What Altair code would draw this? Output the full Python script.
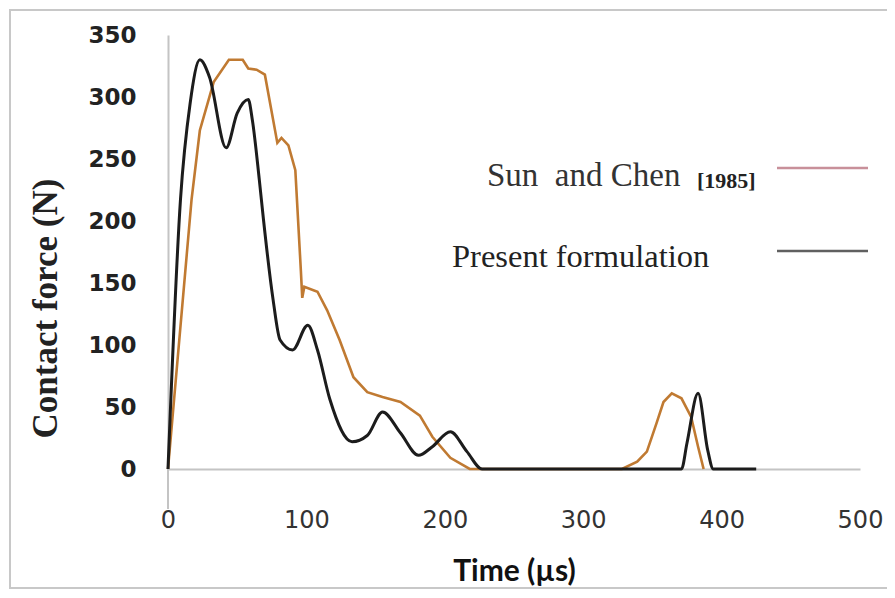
import altair as alt
import pandas as pd

# Present formulation (black)
t_present = [0, 9, 16, 23, 30, 42, 50, 58, 61, 66, 69, 76, 81, 90, 101, 108, 117, 133, 144, 155,
             168, 181, 191, 204, 216, 227, 371, 375, 383, 390, 394, 425]
f_present = [0, 217, 295, 330, 316, 259, 287, 298, 281, 233, 201, 136, 104, 96, 116, 96, 56, 22, 27, 46,
             29, 11, 18, 30, 14, 0, 0, 21, 61, 15, 0, 0]

# Sun and Chen [1985] (orange)
t_sun = [0, 17, 23, 33, 44, 54, 58, 64, 70, 79, 82, 87, 92, 96, 97, 98.5, 108, 115, 124, 134, 144, 155,
         168, 182, 191, 204, 218, 328, 339, 346, 353, 358, 364, 371, 378, 383, 387]
f_sun = [0, 217, 273, 312, 330, 330, 323, 322, 318, 263, 267, 261, 241, 160, 138, 147, 143, 128, 104, 74, 62, 58,
         54, 43, 26, 9, 0, 0, 6, 14, 37, 54, 61, 57, 42, 18, 0]

legend_labels = ["Sun\u00a0 and Chen", "Present formulation"]
legend_ref = "[1985]"
x_ticks = [0, 100, 200, 300, 400, 500]
y_ticks = [0, 50, 100, 150, 200, 250, 300, 350]

df_sun = pd.DataFrame({"t": t_sun, "f": f_sun, "i": range(len(t_sun))})
df_pre = pd.DataFrame({"t": t_present, "f": f_present, "i": range(len(t_present))})

W, H = 692, 434

xenc = alt.X("t:Q", scale=alt.Scale(domain=[0, 500], nice=False),
             axis=alt.Axis(values=x_ticks, title="Time (µs)", grid=False, ticks=False,
                           domainColor="#c4c4c4", domainWidth=2,
                           labelFont="DejaVu Sans", labelFontSize=24, labelColor="#333333",
                           labelPadding=39, labelFlush=False,
                           titleFont="Lato", titleFontSize=30, titleFontWeight="bold",
                           titleColor="#111111", titleX=346, titleY=102,
                           titleBaseline="middle"))
yenc = alt.Y("f:Q", scale=alt.Scale(domain=[0, 350], nice=False),
             axis=alt.Axis(values=y_ticks, title="Contact force (N)", grid=False, ticks=False,
                           domainColor="#c4c4c4", domainWidth=2,
                           labelFont="DejaVu Sans", labelFontSize=23, labelFontWeight="bold",
                           labelColor="#222222", labelPadding=32,
                           titleFont="Liberation Serif", titleFontSize=35, titleFontWeight="bold",
                           titleColor="#222222", titleAngle=270, titleX=-123, titleY=273,
                           titleBaseline="middle", titleAlign="center"))

sun_line = alt.Chart(df_sun).mark_line(color="#C07A32", strokeWidth=2.6).encode(
    x=xenc, y=yenc, order="i:Q")
pre_line = alt.Chart(df_pre).mark_line(color="#1c1c1c", strokeWidth=3, interpolate="monotone").encode(
    x="t:Q", y="f:Q", order="i:Q")

one = pd.DataFrame({"a": [0]})
frame = alt.Chart(one).mark_rect(fill="transparent", stroke="#c8c8c8", strokeWidth=2).encode(
    x=alt.value(-158), x2=alt.value(740), y=alt.value(-25), y2=alt.value(553))
stub = alt.Chart(one).mark_rule(color="#c4c4c4", strokeWidth=2).encode(
    x=alt.value(0), y=alt.value(H), y2=alt.value(H + 40))

leg1 = alt.Chart(pd.DataFrame({"lab": [legend_labels[0]]})).mark_text(
    font="Liberation Serif", fontSize=33, align="left", baseline="alphabetic", color="#333333").encode(
    x=alt.value(319), y=alt.value(151), text="lab:N")
leg1b = alt.Chart(pd.DataFrame({"lab": [legend_ref]})).mark_text(
    font="Liberation Serif", fontSize=22, fontWeight="bold", align="left", baseline="alphabetic",
    color="#222222").encode(x=alt.value(529), y=alt.value(153), text="lab:N")
leg2 = alt.Chart(pd.DataFrame({"lab": [legend_labels[1]]})).mark_text(
    font="Liberation Serif", fontSize=32.5, align="left", baseline="alphabetic", color="#222222").encode(
    x=alt.value(284), y=alt.value(232), text="lab:N")
sw1 = alt.Chart(one).mark_rule(color="#C8909A", strokeWidth=2.5).encode(
    x=alt.value(609), x2=alt.value(700), y=alt.value(133))
sw2 = alt.Chart(one).mark_rule(color="#606060", strokeWidth=2.5).encode(
    x=alt.value(609), x2=alt.value(700), y=alt.value(216))

chart = alt.layer(frame, stub, sun_line, pre_line, leg1, leg1b, leg2, sw1, sw2).properties(
    width=W, height=H,
    autosize=alt.AutoSizeParams(type="none"),
    padding={"left": 160, "top": 27, "right": 27, "bottom": 121},
).configure_view(stroke=None)

chart.save("out.html", embed_options={"renderer": "svg", "actions": False})
